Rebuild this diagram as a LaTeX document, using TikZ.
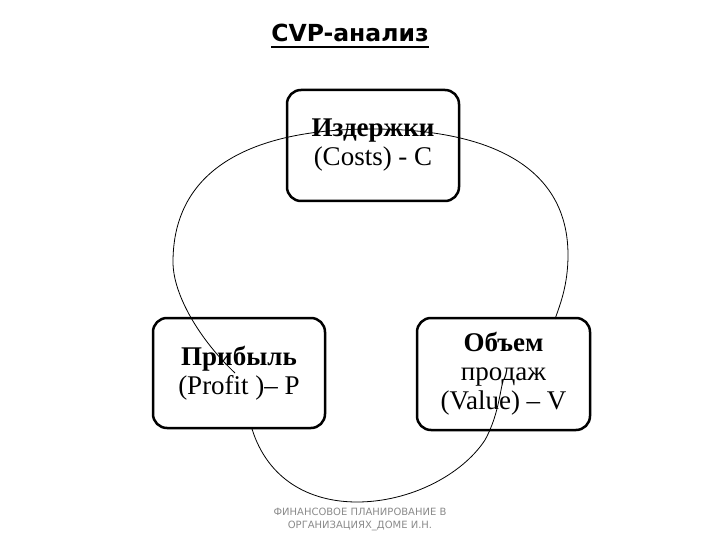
\documentclass[tikz,border=0pt]{standalone}
\usepackage{fontspec}
\setmainfont{Liberation Serif}
\newfontfamily\dejavu{DejaVu Sans}
\definecolor{footgray}{HTML}{8A8A8A}
\begin{document}
\begin{tikzpicture}[x=1pt,y=-1pt,
  box/.style={draw, line width=2.5pt, rounded corners=14pt, fill=white, align=center,
    font=\fontsize{27}{29}\selectfont, inner sep=0pt},
  arcline/.style={line width=0.8pt}]
\useasboundingbox (0,0) rectangle (720,540);
% title
\node[font=\dejavu\bfseries\fontsize{23.5}{28}\selectfont, anchor=base, inner sep=0pt] (title) at (350,42) {CVP-анализ};
\draw[line width=2pt] ([yshift=-5pt]title.base west) -- ([yshift=-5pt]title.base east);
% boxes
\node[box, minimum width=172pt, minimum height=111pt] (costs) at (373,145.5) {\textbf{Издержки}\\(Costs) - C};
\node[box, minimum width=172pt, minimum height=110pt] (profit) at (239,373) {\textbf{Прибыль}\\(Profit )– P};
\node[box, minimum width=173pt, minimum height=112pt] (value) at (503.5,374) {\textbf{Объем}\\продаж\\(Value) – V};
% cycle arcs
\coordinate (top) at (372,129);
\coordinate (lft) at (173,262);
\coordinate (rgt) at (568,255);
\coordinate (pEnd) at (235,373);
\coordinate (vTop) at (555,319);
\coordinate (pBot) at (252,429);
\coordinate (btm) at (357,502);
\coordinate (vIn) at (485,440);
\coordinate (vEnd) at (502,385);
\draw[arcline] (pEnd) .. controls (200,340) and (173,295) .. (lft)
  .. controls (173,170) and (250,129) .. (top)
  .. controls (492,129) and (568,168) .. (rgt)
  .. controls (568,285) and (560,305) .. (vTop);
\draw[arcline] (pBot) .. controls (268,480) and (310,502) .. (btm)
  .. controls (410,502) and (462,475) .. (vIn)
  .. controls (496,420) and (499,400) .. (vEnd);
% footer
\node[font=\dejavu\fontsize{10}{12.5}\selectfont, text=footgray, align=center, inner sep=0pt] (foot) at (360,519.5) {ФИНАНСОВОЕ ПЛАНИРОВАНИЕ В\\ОРГАНИЗАЦИЯХ\_ДОМЕ И.Н.};
\end{tikzpicture}
\end{document}
